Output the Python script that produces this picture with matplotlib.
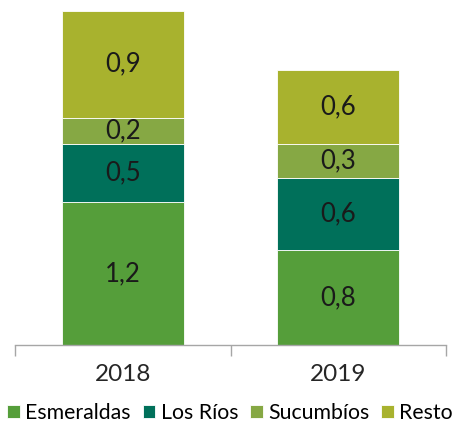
import matplotlib.pyplot as plt
import numpy as np

years = ["2018", "2019"]
series = ["Esmeraldas", "Los Ríos", "Sucumbíos", "Resto"]
esmeraldas = [1.20, 0.80]
los_rios = [0.49, 0.60]
sucumbios = [0.22, 0.29]
resto = [0.90, 0.62]
colors = ["#559E3A", "#00705A", "#86A844", "#A8B22E"]

plt.rcParams['font.family'] = ['Lato', 'DejaVu Sans']

fig = plt.figure(figsize=(4.6, 4.26), dpi=100)
ax = fig.add_axes([15/460, 1-345/426, 431/460, 334/426])

x = np.arange(len(years))
bottom = np.zeros(len(years))
for name, vals, c in zip(series, [esmeraldas, los_rios, sucumbios, resto], colors):
    vals = np.array(vals)
    ax.bar(x, vals, 0.567, bottom=bottom, color=c, edgecolor="white", linewidth=0.6, label=name)
    for xi, b, v in zip(x, bottom, vals):
        ax.text(xi, b + v/2, f"{v:.1f}".replace(".", ","), ha="center", va="center",
                fontsize=18.5, color="#1a1a1a")
    bottom += vals

ax.set_xlim(-0.5, 1.5)
ax.set_ylim(0, 334/119)
for s in ["top", "right", "left"]:
    ax.spines[s].set_visible(False)
ax.spines["bottom"].set_color("#A6A6A6")
ax.spines["bottom"].set_linewidth(1)
ax.set_yticks([])
ax.set_xticks(x)
ax.set_xticklabels(years, fontsize=17.5, color="#262626")
ax.tick_params(axis="x", which="major", length=0, pad=14)
ax.set_xticks([-0.5, 0.5, 1.5], minor=True)
ax.tick_params(axis="x", which="minor", length=8, color="#A6A6A6", width=1)

handles, labels = ax.get_legend_handles_labels()
fig.legend(handles, labels, loc="center", bbox_to_anchor=(0.5, 1-413/426), ncol=4,
           frameon=False, fontsize=15.3, handlelength=0.6, handleheight=0.6,
           handletextpad=0.25, columnspacing=0.55, borderpad=0)

fig.savefig("out.png", dpi=100)
